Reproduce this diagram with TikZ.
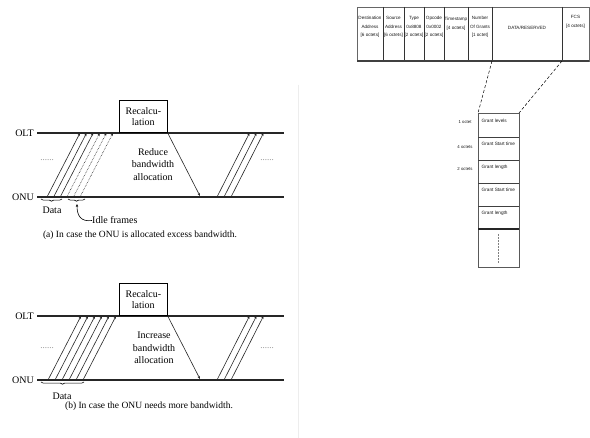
\documentclass[tikz,border=0pt]{standalone}
\usepackage{fontspec}
\setmainfont{Liberation Serif}
\newfontfamily\smallsans{Liberation Sans}
\usetikzlibrary{arrows.meta,decorations.pathreplacing}
\tikzset{
  baseline/.style={line width=1.4pt, black!85},
  sig/.style={line width=0.6pt, black!85, -{Stealth[length=3pt,width=2.4pt]}},
  idlesig/.style={sig, densely dotted},
  recalc/.style={draw, line width=0.7pt, minimum width=48pt, minimum height=32pt, inner sep=0pt, align=center, font=\fontsize{10}{11.5}\selectfont},
  lbl/.style={font=\fontsize{10}{12.5}\selectfont, inner sep=0pt, align=center},
  capt/.style={font=\fontsize{9.5}{11}\selectfont, inner sep=0pt},
  ell/.style={font=\fontsize{9}{9}\selectfont, text=black!45, inner sep=0pt},
  bracket/.style={decorate, decoration={brace, amplitude=2.2pt, mirror}, line width=0.6pt},
  fld/.style={font=\smallsans\fontsize{4.6}{8.5}\selectfont, text=black!90, inner sep=0pt, align=center},
  row/.style={font=\smallsans\fontsize{4.7}{5}\selectfont, text=black!90, inner sep=0pt, anchor=west},
  sidelbl/.style={font=\smallsans\fontsize{4.3}{5}\selectfont, text=black!90, inner sep=0pt},
  framel/.style={line width=0.5pt, black!60},
  divl/.style={line width=0.7pt, black!80},
}
\begin{document}
\begin{tikzpicture}[x=1pt,y=-1pt]
\useasboundingbox (0,0) rectangle (590,438);
\fill[white] (0,0) rectangle (590,438);
\draw[black!7, line width=0.6pt] (298,85) -- (298,438);

% ---------------- panel (a) ----------------
\coordinate (aOLTl) at (37,133); \coordinate (aOLTr) at (284,133);
\coordinate (aONUl) at (37,197); \coordinate (aONUr) at (284,197);
\node[lbl, anchor=east] (aOLT) at (34,133) {OLT};
\node[lbl, anchor=east] (aONU) at (34,197) {ONU};
\draw[baseline] (aOLTl) -- (aOLTr);
\draw[baseline] (aONUl) -- (aONUr);
\node[recalc, anchor=south west, fill=white] (aBox) at (119,133) {Recalcu-\\lation};
\foreach \i in {0,...,5} {
  \coordinate (aS\i) at ({47+6.6*\i},197);
  \coordinate (aE\i) at ({80+6.6*\i},133);
}
\draw[sig] (aS0) -- (aE0);
\draw[sig] (aS1) -- (aE1);
\draw[sig] (aS2) -- (aE2);
\draw[idlesig] (aS3) -- (aE3);
\draw[idlesig] (aS4) -- (aE4);
\draw[idlesig] (aS5) -- (aE5);
\foreach \i/\b in {0/217,1/224,2/231} {
  \coordinate (aRS\i) at (\b,197);
  \coordinate (aRE\i) at ({\b+32.5},133);
  \draw[sig] (aRS\i) -- (aRE\i);
}
\coordinate (aDn) at (200,196);
\draw[sig] (aBox.south east) -- (aDn);
\node[lbl] (aTxt) at (153,164.5) {Reduce\\bandwidth\\allocation};
\node[ell] (aDotsL) at (47,160) {......};
\node[ell] (aDotsR) at (267,160) {......};
\coordinate (aDb1) at (41,199); \coordinate (aDb2) at (62,199);
\draw[bracket] (aDb1) -- (aDb2);
\coordinate (aIb1) at (68,199); \coordinate (aIb2) at (85,199);
\draw[bracket] (aIb1) -- (aIb2);
\node[lbl] (aData) at (52,210.5) {Data};
\node[lbl, anchor=west] (aIdle) at (92,220.5) {Idle frames};
\coordinate (aTip) at (77,204);
\draw[line width=0.6pt, -{Stealth[length=3pt,width=2.4pt]}] (aIdle.west) .. controls (81,222) and (77,216) .. (aTip);
\node[capt] (aCap) at (140,235) {(a) In case the ONU is allocated excess bandwidth.};

% ---------------- panel (b) ----------------
\begin{scope}[shift={(0,183)}]
\coordinate (bOLTl) at (37,133); \coordinate (bOLTr) at (284,133);
\coordinate (bONUl) at (37,197); \coordinate (bONUr) at (284,197);
\node[lbl, anchor=east] (bOLT) at (34,133) {OLT};
\node[lbl, anchor=east] (bONU) at (34,197) {ONU};
\draw[baseline] (bOLTl) -- (bOLTr);
\draw[baseline] (bONUl) -- (bONUr);
\node[recalc, anchor=south west, fill=white] (bBox) at (119,133) {Recalcu-\\lation};
\foreach \i in {0,...,5} {
  \coordinate (bS\i) at ({48+7*\i},197);
  \coordinate (bE\i) at ({81+7*\i},133);
  \draw[sig] (bS\i) -- (bE\i);
}
\foreach \i/\b in {0/217,1/224,2/231} {
  \coordinate (bRS\i) at (\b,197);
  \coordinate (bRE\i) at ({\b+32.5},133);
  \draw[sig] (bRS\i) -- (bRE\i);
}
\coordinate (bDn) at (200,196);
\draw[sig] (bBox.south east) -- (bDn);
\node[lbl] (bTxt) at (154,165) {Increase\\bandwidth\\allocation};
\node[ell] (bDotsL) at (47,165) {......};
\node[ell] (bDotsR) at (267,165) {......};
\coordinate (bDb1) at (41,199); \coordinate (bDb2) at (84,199);
\draw[bracket] (bDb1) -- (bDb2);
\node[lbl] (bData) at (62,213) {Data};
\node[capt] (bCap) at (149,223) {(b) In case the ONU needs more bandwidth.};
\end{scope}

% ---------------- frame format ----------------
\draw[framel] (357,7) rectangle (589,61);
\foreach \x in {383,404,424,444,468,492,562} { \draw[divl] (\x,7) -- (\x,61); }
\draw[line width=1.8pt, black!75] (357,61) -- (589,61);
\node[fld] (fDA) at (370,27) {Destination\\Address\\{}[6 octets]};
\node[fld] (fSA) at (393.5,27) {Source\\Address\\{}[6 octets]};
\node[fld] (fTy) at (414,27) {Type\\0x8808\\{}[2 octets]};
\node[fld] (fOp) at (434,27) {Opcode\\0x0002\\{}[2 octets]};
\node[fld] (fTs) at (456,24) {Timestamp\\{}[4 octets]};
\node[fld] (fNG) at (480,27) {Number\\Of Grants\\{}[1 octet]};
\node[fld] (fDR) at (527,28) {DATA/RESERVED};
\node[fld] (fFCS) at (575.5,22) {FCS\\{}[4 octets]};

% ---------------- grant stack ----------------
\coordinate (gTL) at (478,113); \coordinate (gTR) at (519,113);
\coordinate (fL) at (492,61); \coordinate (fR) at (562,61);
\draw[line width=0.5pt, densely dashed] (fL) -- (gTL);
\draw[line width=0.5pt, densely dashed] (fR) -- (gTR);
\draw[line width=0.8pt, black!65] (478,113) rectangle (519,267);
\foreach \y in {137,160,183,206} { \draw[line width=0.7pt, black!75] (478,\y) -- (519,\y); }
\draw[line width=1.5pt, black!85] (478,229) -- (519,229);
\node[row] (g1) at (481.5,121) {Grant levels};
\node[row] (g2) at (481.5,144) {Grant Start time};
\node[row] (g3) at (481.5,167) {Grant length};
\node[row] (g4) at (481.5,190) {Grant Start time};
\node[row] (g5) at (481.5,213) {Grant length};
\coordinate (gd1) at (498,234); \coordinate (gd2) at (498,263);
\draw[line width=0.5pt, black!50, densely dotted] (gd1) -- (gd2);
\node[sidelbl] (o1) at (465,122) {1 octet};
\node[sidelbl] (o4) at (465,147) {4 octets};
\node[sidelbl] (o2) at (465,169) {2 octets};
\end{tikzpicture}
\end{document}
